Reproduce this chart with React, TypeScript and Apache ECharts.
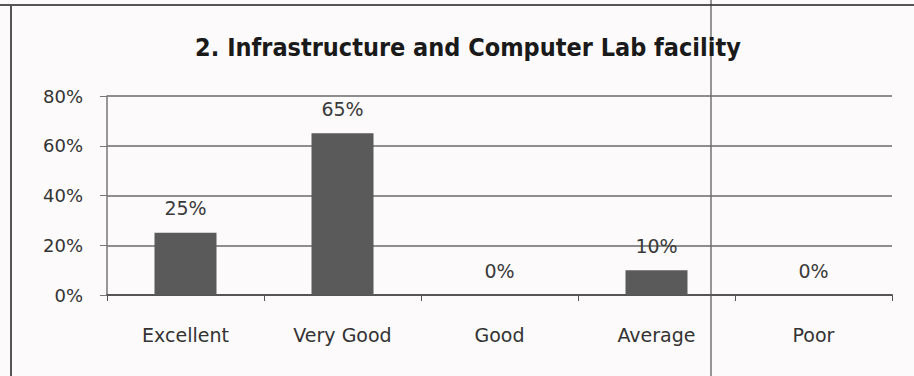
import React, { useEffect, useRef } from "react";
import * as echarts from "echarts";

const titleText = "2. Infrastructure and Computer Lab facility";
const categories = ["Excellent", "Very Good", "Good", "Average", "Poor"];
const values = [25, 65, 0, 10, 0];
const yTicks = [0, 20, 40, 60, 80];

const TFONT = "'DejaVu Sans Condensed', 'DejaVu Sans', sans-serif";
const FONT = "'DejaVu Sans', sans-serif";

export default function App() {
  const ref = useRef<HTMLDivElement>(null);
  useEffect(() => {
    if (!ref.current) return;
    const chart = echarts.init(ref.current, null, { renderer: "svg" });
    chart.setOption({
      animation: false,
      backgroundColor: "#fcfafa",
      grid: { left: 107, right: 22, top: 96, bottom: 81 },
      xAxis: {
        type: "category",
        data: categories,
        axisLine: { lineStyle: { color: "#555", width: 2 } },
        axisTick: { show: true, length: 6, lineStyle: { color: "#555" } },
        axisLabel: { fontFamily: FONT, fontSize: 19, color: "#333", margin: 30 },
      },
      yAxis: {
        type: "value",
        min: yTicks[0],
        max: yTicks[yTicks.length - 1],
        interval: 20,
        axisLine: { show: true, lineStyle: { color: "#777", width: 1.5 } },
        axisTick: { show: true, length: 7, lineStyle: { color: "#777" } },
        axisLabel: { formatter: "{value}%", fontFamily: FONT, fontSize: 18, color: "#333", margin: 24 },
        splitLine: { lineStyle: { color: "#6a6a6a", width: 1.5 } },
      },
      series: [
        {
          type: "bar",
          data: values,
          barWidth: 62,
          itemStyle: { color: "#5a5a5a" },
          label: {
            show: true,
            position: "top",
            distance: 15,
            formatter: "{c}%",
            fontFamily: FONT,
            fontSize: 19,
            color: "#3a3a3a",
          },
        },
      ],
      graphic: [
        { type: "line", shape: { x1: 0, y1: 5, x2: 914, y2: 5 }, style: { stroke: "#555", lineWidth: 2 } },
        { type: "line", shape: { x1: 11, y1: 5, x2: 11, y2: 376 }, style: { stroke: "#555", lineWidth: 2 } },
        { type: "line", shape: { x1: 711, y1: 0, x2: 711, y2: 376 }, style: { stroke: "#333", lineWidth: 1 } },
        {
          type: "text",
          x: 468,
          y: 47,
          style: {
            text: titleText,
            fontFamily: TFONT,
            fontSize: 25,
            fontWeight: "bold",
            fill: "#1a1a1a",
            textAlign: "center",
            textVerticalAlign: "middle",
          },
        },
      ],
    });
    return () => chart.dispose();
  }, []);
  return <div ref={ref} style={{ width: 914, height: 376, position: "fixed", left: 0, top: 0 }} />;
}
